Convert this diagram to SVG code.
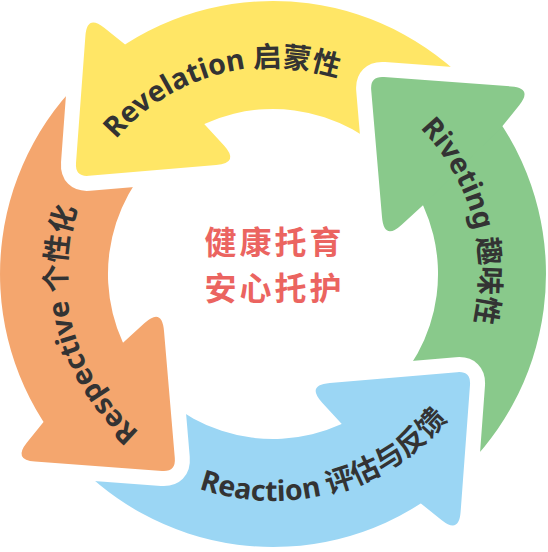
<svg xmlns="http://www.w3.org/2000/svg" xmlns:xlink="http://www.w3.org/1999/xlink" width="548" height="552" viewBox="0 0 548 552">
  <style>
    .lbl { font-family: "Noto Sans", "Noto Sans CJK SC", sans-serif; font-weight: 700; font-size: 28.5px; fill: #333333; }
    .ctr { font-family: "Noto Sans CJK SC", "Noto Sans", sans-serif; font-weight: 700; font-size: 32px; letter-spacing: 3px; fill: #EB6460; text-anchor: middle; }
  </style>
  <defs>
    <path id="shaft" d="M 116.4 50.4 A 273 273 0 0 1 482.1 98.5 L 399.4 167.9 A 165 165 0 0 0 178.4 138.8 Z"/>
    <path id="head" d="M 88.9 175.8 Q 75 177 76.0 163.0 L 85.4 35.9 Q 87 14 104.2 27.75 L 125.1 44.5 L 204.2 124 L 223.8 145.3 Q 240 163 216.1 165.0 Z"/>
    <mask id="gap" maskUnits="userSpaceOnUse" x="-300" y="-300" width="1150" height="1150">
      <rect x="-300" y="-300" width="1150" height="1150" fill="#fff"/>
      <use xlink:href="#head" href="#head" transform="rotate(90 273 274)" fill="#000" stroke="#000" stroke-width="30" stroke-linejoin="round"/>
    </mask>
    <path id="tpY" d="M 67.0 294.2 A 207 207 0 0 1 459.7 184.6"/>
    <path id="tpG" d="M 252.8 68.0 A 207 207 0 0 1 362.4 460.7"/>
    <path id="tpO" d="M 293.2 480.0 A 207 207 0 0 1 183.6 87.3"/>
    <path id="tpB" d="M 68.3 372.1 A 227 227 0 0 0 498.9 251.8"/>
  </defs>

  <g id="connectors"></g>

  <g id="revelation">
    <g fill="#FFE666" mask="url(#gap)">
      <use xlink:href="#shaft" href="#shaft"/>
      <use xlink:href="#head" href="#head"/>
    </g>
    <text class="lbl"><textPath xlink:href="#tpY" href="#tpY" startOffset="50%" text-anchor="middle">Revelation 启蒙性</textPath></text>
  </g>

  <g id="riveting">
    <g transform="rotate(90 273 274)">
      <g fill="#89C98B" mask="url(#gap)">
        <use xlink:href="#shaft" href="#shaft"/>
        <use xlink:href="#head" href="#head"/>
      </g>
    </g>
    <text class="lbl"><textPath xlink:href="#tpG" href="#tpG" startOffset="50%" text-anchor="middle">Riveting 趣味性</textPath></text>
  </g>

  <g id="reaction">
    <g transform="rotate(180 273 274)">
      <g fill="#9BD6F4" mask="url(#gap)">
        <use xlink:href="#shaft" href="#shaft"/>
        <use xlink:href="#head" href="#head"/>
      </g>
    </g>
    <text class="lbl"><textPath xlink:href="#tpB" href="#tpB" startOffset="50%" text-anchor="middle">Reaction 评估与反馈</textPath></text>
  </g>

  <g id="respective">
    <g transform="rotate(-90 273 274)">
      <g fill="#F4A66E" mask="url(#gap)">
        <use xlink:href="#shaft" href="#shaft"/>
        <use xlink:href="#head" href="#head"/>
      </g>
    </g>
    <text class="lbl"><textPath xlink:href="#tpO" href="#tpO" startOffset="50%" text-anchor="middle">Respective 个性化</textPath></text>
  </g>

  <g id="center">
    <text class="ctr" x="274.5" y="253.5">健康托育</text>
    <text class="ctr" x="274.5" y="300">安心托护</text>
  </g>
</svg>
